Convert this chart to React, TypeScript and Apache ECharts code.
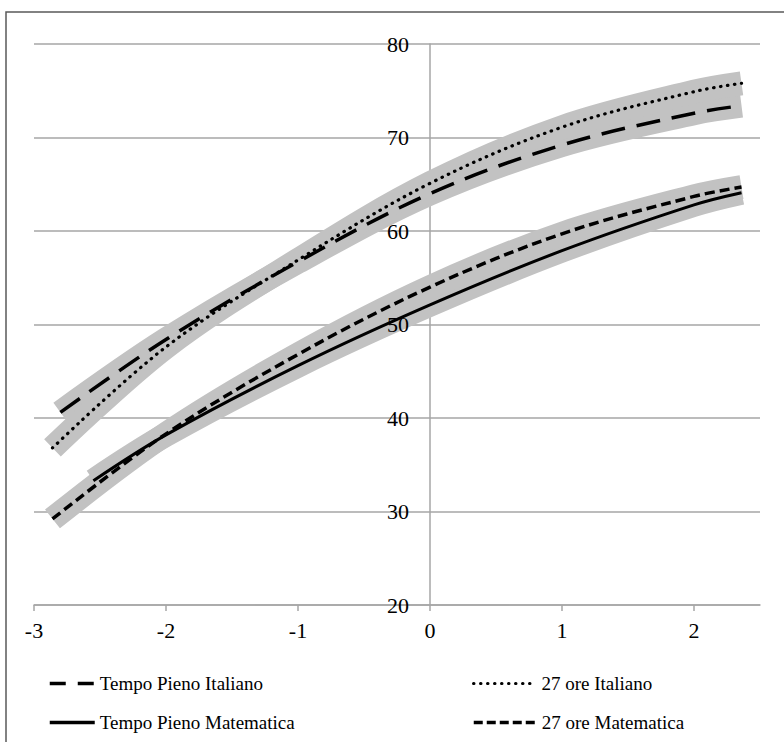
import React, { useEffect, useRef } from "react";
import * as echarts from "echarts";

// Data
const xTickValues = [-3, -2, -1, 0, 1, 2];
const yTickValues = [20, 30, 40, 50, 60, 70, 80];

const tpiX = [-2.8, -2, -1, 0, 1, 2, 2.36];
const tpiY = [40.6, 48.4, 56.7, 64.0, 69.2, 72.6, 73.4];

const oreItX = [-2.86, -2, -1, 0, 1, 2, 2.36];
const oreItY = [36.8, 47.6, 56.9, 65.1, 71.1, 74.9, 75.8];

const tpmX = [-2.55, -2, -1, 0, 1, 2, 2.36];
const tpmY = [33.3, 38.2, 45.6, 52.1, 57.9, 62.8, 64.1];

const oreMaX = [-2.86, -2, -1, 0, 1, 2, 2.36];
const oreMaY = [29.2, 38.3, 46.8, 54.0, 59.7, 63.7, 64.7];

const seriesNames = [
  "Tempo Pieno Italiano",
  "27 ore Italiano",
  "Tempo Pieno Matematica",
  "27 ore Matematica",
];

const pairs = (xs: number[], ys: number[]) => xs.map((x, i) => [x, ys[i]]);

export default function App() {
  const ref = useRef<HTMLDivElement>(null);

  useEffect(() => {
    if (!ref.current) return;
    const chart = echarts.init(ref.current, undefined, { renderer: "svg" });
    const font = "Liberation Serif";
    const gridLeft = 34;
    const gridRight = 24;
    const xMin = -3;
    const xMax = 2.5;
    const plotW = 784 - gridLeft - gridRight;
    const zeroOffset = -((0 - xMin) / (xMax - xMin)) * plotW;

    const datasets = [
      pairs(tpiX, tpiY),
      pairs(oreItX, oreItY),
      pairs(tpmX, tpmY),
      pairs(oreMaX, oreMaY),
    ];
    const lineStyles: any[] = [
      { type: [24, 12], width: 3.5, cap: "butt" },
      { type: [0.5, 6.5], width: 3.2, cap: "round" },
      { type: "solid", width: 3 },
      { type: [10, 5], width: 3.5, cap: "butt" },
    ];
    const legendStyles: any[] = [
      { type: [16, 12], width: 3.5, cap: "butt" },
      { type: [0.5, 6.5], width: 3, cap: "round" },
      { type: "solid", width: 3.5 },
      { type: [9, 4], width: 3.5, cap: "butt" },
    ];
    const legendPos = [
      { left: 48, top: 674, w: 45 },
      { left: 472, top: 674, w: 63 },
      { left: 48, top: 713, w: 45 },
      { left: 472, top: 713, w: 63 },
    ];

    const bandSeries = datasets.map((d, i) => ({
      name: "band" + i,
      type: "line",
      data: d,
      smooth: 0.35,
      symbol: "none",
      silent: true,
      z: 1,
      lineStyle: { color: "#c2c2c2", width: 24, cap: "butt", join: "round" },
    }));
    const mainSeries = datasets.map((d, i) => ({
      name: seriesNames[i],
      type: "line",
      data: d,
      smooth: 0.35,
      symbol: "none",
      z: 4,
      lineStyle: { color: "#000", ...lineStyles[i] },
      itemStyle: { color: "#000" },
    }));

    const yBase = {
      type: "value",
      min: 20,
      max: 80,
      interval: 10,
      position: "left",
      offset: zeroOffset,
      axisTick: { show: false },
    };

    chart.setOption({
      animation: false,
      backgroundColor: "#fff",
      grid: {
        left: gridLeft,
        right: gridRight,
        top: 44,
        bottom: 137,
        containLabel: false,
        outerBoundsMode: "none",
      },
      graphic: [
        {
          type: "rect",
          z: -1,
          shape: { x: 6, y: 12, width: 900, height: 900 },
          style: { fill: "none", stroke: "#5a5a5a", lineWidth: 1.5 },
        },
      ],
      legend: seriesNames.map((n, i) => ({
        data: [n],
        left: legendPos[i].left,
        top: legendPos[i].top,
        padding: 0,
        itemWidth: legendPos[i].w,
        itemHeight: 18,
        selectedMode: false,
        lineStyle: { color: "#000", ...legendStyles[i] },
        itemStyle: { color: "rgba(0,0,0,0)", borderWidth: 0, opacity: 0 },
        textStyle: { fontFamily: font, fontSize: 19, color: "#000" },
      })),
      xAxis: {
        type: "value",
        min: xMin,
        max: xMax,
        interval: 1,
        axisLine: { onZero: false, lineStyle: { color: "#a6a6a6", width: 1.5 } },
        axisTick: {
          show: true,
          length: 6,
          customValues: xTickValues,
          lineStyle: { color: "#a6a6a6", width: 1.5 },
        },
        axisLabel: {
          customValues: xTickValues,
          fontFamily: font,
          fontSize: 22,
          color: "#000",
          margin: 14,
        },
        splitLine: { show: false },
      },
      yAxis: [
        {
          ...yBase,
          z: 0,
          axisLine: {
            show: true,
            onZero: false,
            lineStyle: { color: "#a6a6a6", width: 1.5 },
          },
          axisLabel: { show: false },
          splitLine: { show: true, lineStyle: { color: "#a6a6a6", width: 1.5 } },
        },
        {
          ...yBase,
          z: 6,
          axisLine: { show: false, onZero: false },
          axisLabel: {
            customValues: yTickValues,
            fontFamily: font,
            fontSize: 22,
            color: "#000",
            margin: 21,
          },
          splitLine: { show: false },
        },
      ],
      series: [...bandSeries, ...mainSeries],
    } as any);
    return () => chart.dispose();
  }, []);

  return (
    <div
      ref={ref}
      style={{ position: "fixed", left: 0, top: 0, width: 784, height: 742 }}
    />
  );
}
